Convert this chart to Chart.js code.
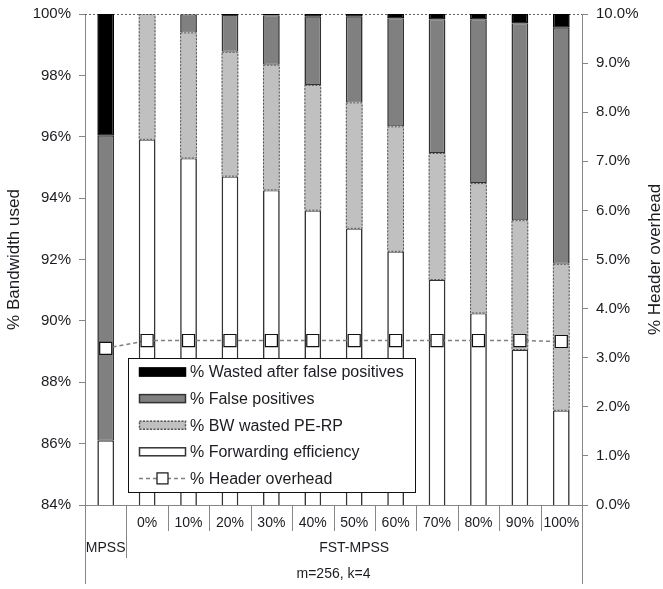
<!DOCTYPE html>
<html>
<head>
<meta charset="utf-8">
<script src="https://cdn.jsdelivr.net/npm/chart.js@4.4.1/dist/chart.umd.min.js"></script>
<style>
  html, body { margin: 0; padding: 0; background: #fff; }
  #wrap { width: 663px; height: 589px; }
</style>
</head>
<body>
<div id="wrap"><canvas id="chart" width="663" height="589"></canvas></div>
<script>
// Category labels (first row under the axis) and the scheme each category belongs to
const thresholds = ['', '0%', '10%', '20%', '30%', '40%', '50%', '60%', '70%', '80%', '90%', '100%'];
const schemeNames = ['MPSS', 'FST-MPSS'];
const schemeOfCategory = [0, 1, 1, 1, 1, 1, 1, 1, 1, 1, 1, 1];
const configLabel = 'm=256, k=4';

// Bandwidth breakdown (% of bandwidth, stacked bottom to top)
const forwardingEfficiency = [86.09, 95.90, 95.29, 94.70, 94.25, 93.59, 93.00, 92.25, 91.33, 90.24, 89.05, 87.07];
const bwWastedPeRp         = [0.00, 4.10, 4.11, 4.07, 4.10, 4.10, 4.12, 4.09, 4.14, 4.25, 4.23, 4.79];
const falsePositives       = [9.94, 0.00, 0.58, 1.20, 1.61, 2.22, 2.79, 3.52, 4.36, 5.34, 6.42, 7.69];
const wastedAfterFalsePos  = [3.97, 0.00, 0.02, 0.03, 0.04, 0.09, 0.09, 0.14, 0.17, 0.17, 0.30, 0.45];

// Header overhead (%, right axis)
const headerOverhead = [3.19, 3.35, 3.35, 3.35, 3.35, 3.35, 3.35, 3.35, 3.35, 3.35, 3.35, 3.33];

// Axis tick settings
const leftTicks = { min: 84, max: 100, step: 2 };
const rightTicks = { min: 0, max: 10, step: 1 };

const FONT = "'Liberation Sans', Arial, sans-serif";
const TEXT = '#1b1b22';
const AXIS = '#878787';

const barBorder = { left: 1.6, right: 1.6, top: 1, bottom: 1 };

const datasets = [
  {
    label: '% Forwarding efficiency',
    data: forwardingEfficiency,
    backgroundColor: '#ffffff',
    borderColor: '#333333',
    borderWidth: barBorder,
    borderSkipped: false,
    yAxisID: 'y', order: 1
  },
  {
    label: '% BW wasted PE-RP',
    data: bwWastedPeRp,
    backgroundColor: '#c0c0c0',
    borderColor: '#555555',
    borderWidth: 0,
    dashedOutline: true,
    yAxisID: 'y', order: 1
  },
  {
    label: '% False positives',
    data: falsePositives,
    backgroundColor: '#808080',
    borderColor: '#333333',
    borderWidth: barBorder,
    borderSkipped: false,
    yAxisID: 'y', order: 1
  },
  {
    label: '% Wasted after false positives',
    data: wastedAfterFalsePos,
    backgroundColor: '#000000',
    borderColor: '#000000',
    borderWidth: barBorder,
    borderSkipped: false,
    yAxisID: 'y', order: 1
  },
  {
    type: 'line',
    label: '% Header overhead',
    data: headerOverhead,
    yAxisID: 'y1',
    order: 0,
    borderColor: '#808080',
    borderWidth: 1.5,
    borderDash: [4, 3],
    tension: 0,
    fill: false,
    pointStyle: 'rect',
    pointRadius: 8.5,
    pointHoverRadius: 8.5,
    pointBackgroundColor: '#ffffff',
    pointBorderColor: '#111111',
    pointBorderWidth: 1.2
  }
];

// Extra drawing: dotted top rule, dashed outline for PE-RP segments,
// multi-level category axis, right axis title and the boxed legend.
const decorations = {
  id: 'decorations',
  beforeDatasetsDraw(chart) {
    const { ctx, chartArea: a, scales: { y } } = chart;
    const top = Math.round(y.getPixelForValue(y.max)) + 0.5;
    ctx.save();
    ctx.strokeStyle = '#666';
    ctx.lineWidth = 1;
    ctx.setLineDash([2, 2]);
    ctx.beginPath();
    ctx.moveTo(a.left, top);
    ctx.lineTo(a.right, top);
    ctx.stroke();
    ctx.restore();
  },
  afterDatasetDraw(chart, args) {
    const ds = chart.data.datasets[args.index];
    if (!ds.dashedOutline) return;
    const { ctx, chartArea: a } = chart;
    ctx.save();
    ctx.beginPath();
    ctx.rect(a.left, a.top - 1, a.right - a.left, a.bottom - a.top + 1);
    ctx.clip();
    ctx.strokeStyle = ds.borderColor;
    ctx.lineWidth = 1;
    ctx.setLineDash([2, 1.5]);
    args.meta.data.forEach((bar, i) => {
      if (!ds.data[i]) return;
      const p = bar.getProps(['x', 'y', 'base', 'width'], true);
      const l = p.x - p.width / 2, t = Math.min(p.y, p.base), h = Math.abs(p.base - p.y);
      ctx.strokeRect(l + 0.5, t + 0.5, p.width - 1, h - 1);
    });
    ctx.restore();
  },
  afterDraw(chart) {
    const { ctx, chartArea: a, scales: { x } } = chart;
    const n = thresholds.length;
    const step = x.getPixelForValue(1) - x.getPixelForValue(0);
    const edge = i => x.getPixelForValue(0) - step / 2 + i * step;
    const bottom = a.bottom;

    ctx.save();
    // separators of the category axis
    ctx.strokeStyle = AXIS;
    ctx.lineWidth = 1;
    for (let i = 0; i <= n; i++) {
      let len = 26;
      if (i === 0 || i === n) len = 79;
      else if (schemeOfCategory[i] !== schemeOfCategory[i - 1]) len = 53;
      const px = Math.round(edge(i)) + 0.5;
      ctx.beginPath();
      ctx.moveTo(px, bottom);
      ctx.lineTo(px, bottom + len);
      ctx.stroke();
    }

    // scheme names (second row)
    ctx.fillStyle = TEXT;
    ctx.font = `14px ${FONT}`;
    ctx.textAlign = 'center';
    ctx.textBaseline = 'middle';
    schemeNames.forEach((name, s) => {
      const idx = schemeOfCategory.map((v, i) => v === s ? i : -1).filter(i => i >= 0);
      const cx = (edge(idx[0]) + edge(idx[idx.length - 1] + 1)) / 2;
      ctx.fillText(name, cx, bottom + 43);
    });
    // parameter line (third row)
    ctx.fillText(configLabel, (edge(0) + edge(n)) / 2, bottom + 69);

    // right axis title, reading bottom to top
    ctx.save();
    ctx.translate(655, (a.top + a.bottom) / 2);
    ctx.rotate(-Math.PI / 2);
    ctx.font = `17px ${FONT}`;
    ctx.fillText('% Header overhead', 0, 0);
    ctx.restore();

    // legend box
    const box = { l: 128, t: 358, r: 416, b: 493 };
    ctx.fillStyle = '#fff';
    ctx.fillRect(box.l, box.t, box.r - box.l, box.b - box.t);
    ctx.strokeStyle = '#111';
    ctx.lineWidth = 1;
    ctx.strokeRect(box.l + 0.5, box.t + 0.5, box.r - box.l - 1, box.b - box.t - 1);

    const items = [3, 2, 1, 0, 4].map(i => chart.data.datasets[i]);
    const swL = 139, swR = 186, rowH = 26.6, firstRow = 372;
    ctx.font = `16px ${FONT}`;
    ctx.textAlign = 'left';
    items.forEach((ds, k) => {
      const cy = firstRow + k * rowH;
      if (ds.type === 'line') {
        ctx.strokeStyle = ds.borderColor;
        ctx.lineWidth = ds.borderWidth;
        ctx.setLineDash(ds.borderDash);
        ctx.beginPath();
        ctx.moveTo(swL, cy);
        ctx.lineTo(swR, cy);
        ctx.stroke();
        ctx.setLineDash([]);
        const s = 11, mx = (swL + swR) / 2;
        ctx.fillStyle = ds.pointBackgroundColor;
        ctx.fillRect(mx - s / 2, cy - s / 2, s, s);
        ctx.strokeStyle = ds.pointBorderColor;
        ctx.lineWidth = ds.pointBorderWidth;
        ctx.strokeRect(mx - s / 2, cy - s / 2, s, s);
      } else {
        const h = 9;
        ctx.fillStyle = ds.backgroundColor;
        ctx.fillRect(swL, cy - h / 2, swR - swL, h);
        ctx.strokeStyle = ds.borderColor;
        ctx.lineWidth = 1.5;
        ctx.setLineDash(ds.dashedOutline ? [2, 1.5] : []);
        ctx.strokeRect(swL + 0.5, cy - h / 2 + 0.5, swR - swL - 1, h - 1);
        ctx.setLineDash([]);
      }
      ctx.fillStyle = TEXT;
      ctx.fillText(ds.label, 190, cy + 1);
    });
    ctx.restore();
  }
};

new Chart(document.getElementById('chart'), {
  type: 'bar',
  data: { labels: thresholds, datasets },
  options: {
    responsive: false,
    animation: false,
    devicePixelRatio: 1,
    layout: { padding: { top: 14, left: 0, right: 0, bottom: 0 } },
    plugins: { legend: { display: false }, tooltip: { enabled: false } },
    datasets: { bar: { categoryPercentage: 1, barPercentage: 0.405 } },
    scales: {
      x: {
        stacked: true,
        offset: true,
        grid: { display: false, drawTicks: false },
        border: { display: true, color: AXIS, width: 1 },
        ticks: { autoSkip: false, maxRotation: 0, padding: 10, color: TEXT, font: { family: FONT, size: 14 } },
        afterFit: s => { s.height = 84; }
      },
      y: {
        stacked: true,
        position: 'left',
        min: leftTicks.min, max: leftTicks.max,
        ticks: {
          stepSize: leftTicks.step, padding: 8, color: TEXT,
          font: { family: FONT, size: 15, lineHeight: 0.7 },
          callback: v => v + '%'
        },
        grid: { drawOnChartArea: false, drawTicks: true, tickLength: 6, color: AXIS },
        border: { display: true, color: AXIS, width: 1 },
        title: { display: true, text: '% Bandwidth used', color: TEXT, font: { family: FONT, size: 17 }, padding: { top: 4, bottom: 0 } },
        afterFit: s => { s.width = 85; }
      },
      y1: {
        position: 'right',
        min: rightTicks.min, max: rightTicks.max,
        ticks: {
          stepSize: rightTicks.step, padding: 8, color: TEXT,
          font: { family: FONT, size: 15, lineHeight: 0.7 },
          callback: v => v.toFixed(1) + '%'
        },
        grid: { drawOnChartArea: false, drawTicks: true, tickLength: 6, color: AXIS },
        border: { display: true, color: AXIS, width: 1 },
        afterFit: s => { s.width = 81; }
      }
    }
  },
  plugins: [decorations]
});
</script>
</body>
</html>
